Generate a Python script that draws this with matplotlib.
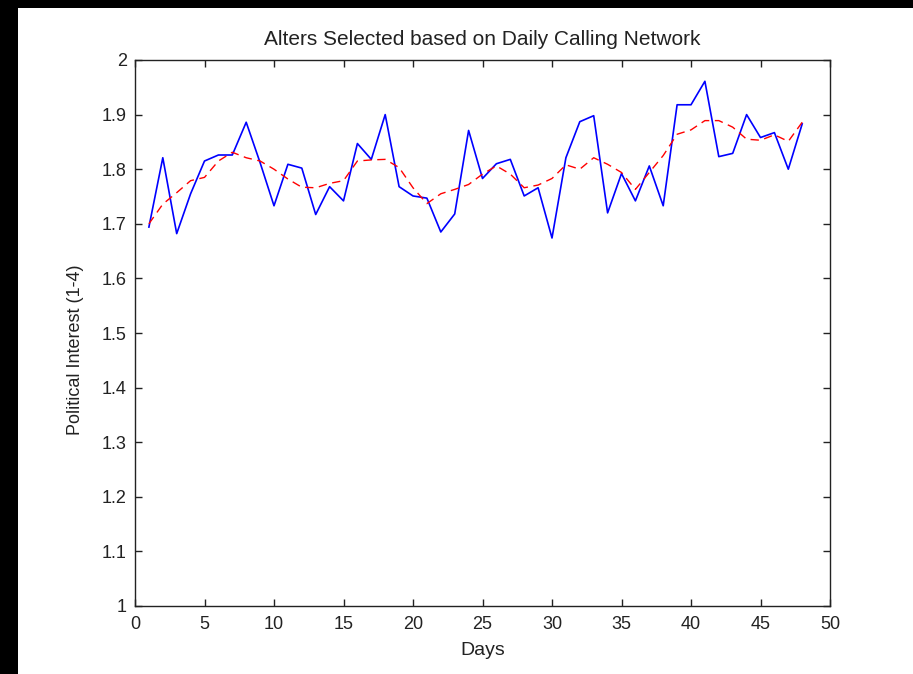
import matplotlib.pyplot as plt
from matplotlib.patches import Rectangle

# Daily values
days = list(range(1, 49))
interest = [1.694, 1.821, 1.682, 1.755, 1.815, 1.826, 1.826, 1.886, 1.812, 1.733,
            1.809, 1.802, 1.717, 1.768, 1.742, 1.847, 1.818, 1.900, 1.768, 1.751,
            1.747, 1.685, 1.718, 1.871, 1.783, 1.810, 1.818, 1.751, 1.766, 1.674,
            1.821, 1.887, 1.898, 1.720, 1.792, 1.742, 1.806, 1.733, 1.918, 1.918,
            1.961, 1.823, 1.829, 1.900, 1.858, 1.867, 1.800, 1.883]
smoothed = [1.700, 1.736, 1.757, 1.779, 1.785, 1.815, 1.831, 1.821, 1.815, 1.800,
            1.782, 1.767, 1.766, 1.774, 1.779, 1.815, 1.817, 1.818, 1.803, 1.766,
            1.737, 1.755, 1.763, 1.772, 1.791, 1.806, 1.791, 1.766, 1.771, 1.783,
            1.808, 1.800, 1.821, 1.809, 1.794, 1.763, 1.794, 1.825, 1.864, 1.872,
            1.889, 1.889, 1.877, 1.855, 1.853, 1.863, 1.851, 1.886]

xticks = list(range(0, 51, 5))
yticks = [1.0, 1.1, 1.2, 1.3, 1.4, 1.5, 1.6, 1.7, 1.8, 1.9, 2.0]
ytick_labels = ['1', '1.1', '1.2', '1.3', '1.4', '1.5', '1.6', '1.7', '1.8', '1.9', '2']

plt.rcParams['font.family'] = ['Liberation Sans', 'DejaVu Sans']

W, H = 913, 674
fig = plt.figure(figsize=(W / 100, H / 100), dpi=100, facecolor='white')
# black strips on the left and top edge (as in the screenshot)
fig.patches.append(Rectangle((0, 0), 18 / W, 1, transform=fig.transFigure,
                             facecolor='black', edgecolor='none'))
fig.patches.append(Rectangle((0, 1 - 8 / H), 1, 8 / H, transform=fig.transFigure,
                             facecolor='black', edgecolor='none'))

ax = fig.add_axes([135 / W, 1 - 606 / H, (830 - 135) / W, (606 - 60) / H])
ax.plot(days, interest, color='#0000ff', linewidth=1.2)
ax.plot(days, smoothed, color='#ff0000', linestyle=(0, (6, 4)), linewidth=1.0)

ax.set_xlim(0, 50)
ax.set_ylim(1, 2)
ax.set_xticks(xticks)
ax.set_yticks(yticks)
ax.set_yticklabels(ytick_labels)
ax.tick_params(direction='in', length=5, width=1, top=True, right=True,
               labelsize=13, colors='#222222')
ax.tick_params(axis='x', pad=7.5)
ax.tick_params(axis='y', pad=6)
for s in ax.spines.values():
    s.set_linewidth(1.0)
    s.set_color('#222222')

ax.set_title('Alters Selected based on Daily Calling Network', fontsize=15, pad=11,
             color='#222222')
ax.set_xlabel('Days', fontsize=14, labelpad=6, color='#222222')
ax.set_ylabel('Political Interest (1-4)', fontsize=13, color='#222222')
ax.yaxis.set_label_coords(-0.074, 0.47)

fig.savefig('out.png', dpi=100, facecolor=fig.get_facecolor())
